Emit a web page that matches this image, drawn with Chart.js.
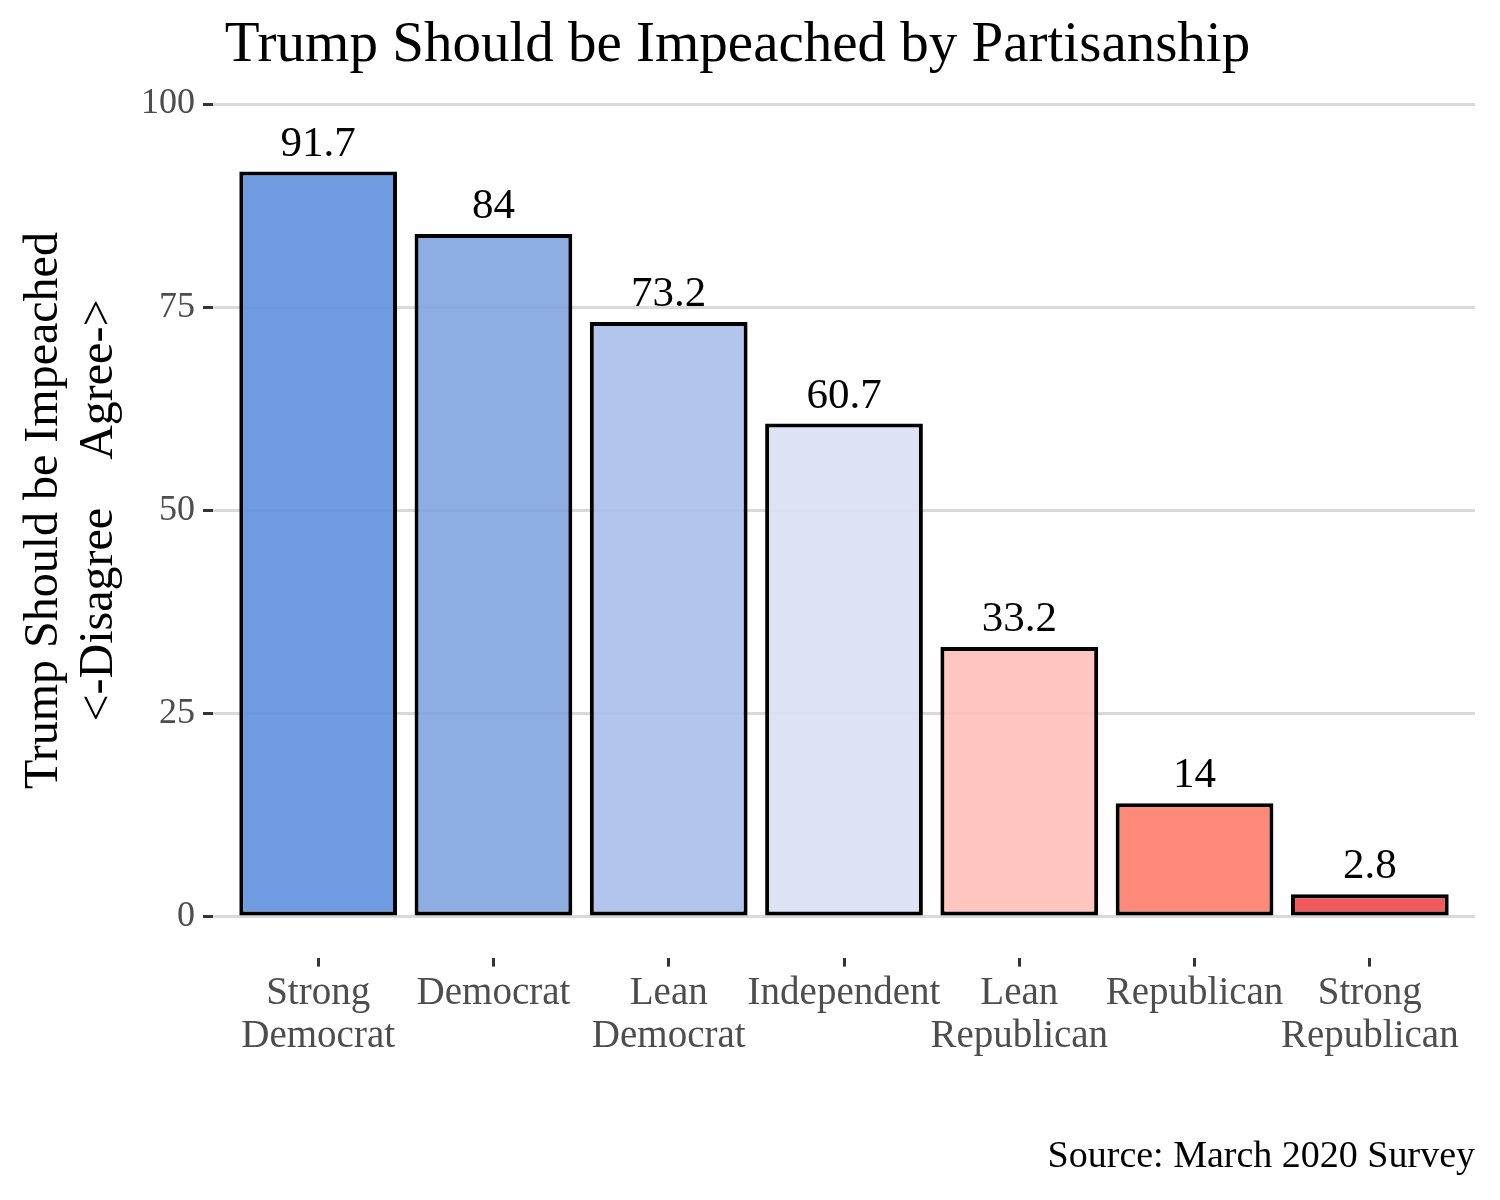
<!DOCTYPE html>
<html>
<head>
<meta charset="utf-8">
<script src="https://cdn.jsdelivr.net/npm/chart.js@4.4.1/dist/chart.umd.min.js"></script>
<style>
  body { margin: 0; background: #fff; }
  canvas { display: block; }
</style>
</head>
<body>
<canvas id="myChart" width="1500" height="1200"></canvas>
<script>
// chart data
const categories = ['Strong Democrat', 'Democrat', 'Lean Democrat', 'Independent', 'Lean Republican', 'Republican', 'Strong Republican'];
const tickLabels = [['Strong', 'Democrat'], 'Democrat', ['Lean', 'Democrat'], 'Independent', ['Lean', 'Republican'], 'Republican', ['Strong', 'Republican']];
const impeach = [91.7, 84, 73.2, 60.7, 33.2, 14, 2.8];
const yTicks = [0, 25, 50, 75, 100];
const barColors = [
    'rgba(95, 145, 221, 0.9)',
    'rgba(130, 165, 224, 0.9)',
    'rgba(170, 192, 235, 0.9)',
    'rgba(217, 224, 244, 0.9)',
    'rgba(255, 192, 185, 0.9)',
    'rgba(255, 125, 107, 0.9)',
    'rgba(238, 72, 72, 0.9)'
];

const FONT = "'Liberation Serif', 'DejaVu Serif', serif";

// value labels above each bar
const barLabels = {
    id: 'barLabels',
    afterDatasetsDraw(chart) {
        const ctx = chart.ctx;
        const meta = chart.getDatasetMeta(0);
        ctx.save();
        ctx.font = '43px ' + FONT;
        ctx.fillStyle = '#000';
        ctx.textAlign = 'center';
        ctx.textBaseline = 'alphabetic';
        meta.data.forEach(function(bar, i) {
            ctx.fillText(String(impeach[i]), bar.x, bar.y - 16);
        });
        ctx.restore();
    }
};

var ctx = document.getElementById('myChart').getContext('2d');
var myChart = new Chart(ctx, {
    type: 'bar',
    data: {
        datasets: [{
            label: 'Trump Should be Impeached',
            data: impeach.map(function(v, i) { return { x: i, y: v }; }),
            backgroundColor: barColors,
            borderColor: '#000',
            borderWidth: 4,
            borderSkipped: false,
            barPercentage: 0.9,
            categoryPercentage: 1.0
        }]
    },
    options: {
        responsive: false,
        animation: false,
        devicePixelRatio: 1,
        layout: { padding: { left: 0, right: 25, top: 0, bottom: 20 } },
        plugins: {
            legend: { display: false },
            tooltip: { enabled: false },
            title: {
                display: true,
                text: 'Trump Should be Impeached by Partisanship',
                color: '#000',
                font: { family: FONT, size: 57, weight: 'normal', lineHeight: 1.2 },
                padding: { top: 12, bottom: -17 }
            },
            subtitle: {
                display: true,
                position: 'bottom',
                align: 'end',
                text: 'Source: March 2020 Survey',
                color: '#000',
                font: { family: FONT, size: 38, weight: 'normal' },
                padding: { top: 70, bottom: 0 }
            }
        },
        scales: {
            x: {
                type: 'linear',
                min: -0.6,
                max: 6.6,
                offset: false,
                afterBuildTicks: function(scale) {
                    scale.ticks = categories.map(function(c, i) { return { value: i }; });
                },
                ticks: {
                    autoSkip: false,
                    maxRotation: 0,
                    color: '#4d4d4d',
                    padding: 6,
                    font: { family: FONT, size: 39, lineHeight: 1.1 },
                    callback: function(value) { return tickLabels[value]; }
                },
                grid: {
                    offset: false,
                    drawOnChartArea: false,
                    drawTicks: true,
                    tickLength: 9,
                    tickWidth: 3,
                    tickColor: '#333'
                },
                border: { display: false }
            },
            y: {
                min: -5,
                max: 105,
                afterBuildTicks: function(scale) {
                    scale.ticks = yTicks.map(function(v) { return { value: v }; });
                },
                afterFit: function(scale) { scale.width = 213; },
                ticks: {
                    color: '#4d4d4d',
                    padding: 8,
                    font: { family: FONT, size: 36 }
                },
                grid: {
                    color: '#d9d9d9',
                    lineWidth: 3,
                    tickLength: 10,
                    tickWidth: 3,
                    tickColor: '#333'
                },
                border: { display: false },
                title: {
                    display: true,
                    text: ['Trump Should be Impeached', '<-Disagree    Agree->'],
                    color: '#000',
                    font: { family: FONT, size: 48, lineHeight: 1.15 },
                    padding: { top: 17, bottom: 0 }
                }
            }
        }
    },
    plugins: [barLabels]
});
</script>
</body>
</html>
